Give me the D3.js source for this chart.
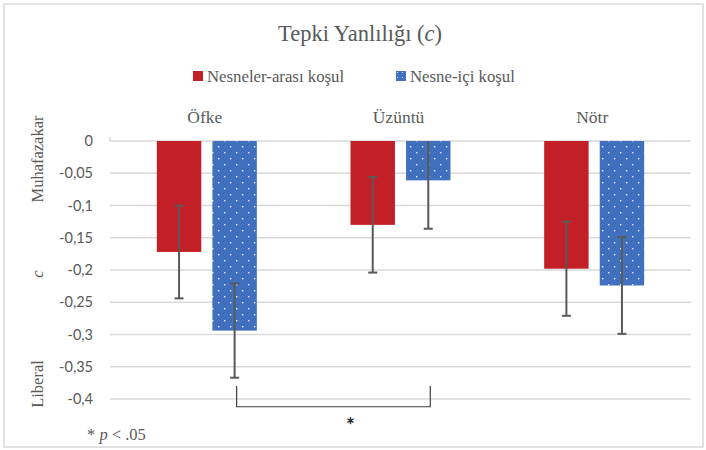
<!DOCTYPE html>
<html>
<head>
<meta charset="utf-8">
<script src="https://cdn.jsdelivr.net/npm/d3@7"></script>
<style>
  html, body { margin: 0; padding: 0; background: #fff; }
  svg { display: block; }
</style>
</head>
<body>
<svg id="chart" width="706" height="450"></svg>
<script>
const categories = ["Öfke", "Üzüntü", "Nötr"];
const seriesNames = ["Nesneler-arası koşul", "Nesne-içi koşul"];
const betweenValues = [-0.172, -0.130, -0.198];
const withinValues = [-0.294, -0.061, -0.224];
const betweenErrors = [0.072, 0.074, 0.073];
const withinErrors = [0.073, 0.075, 0.075];
const yTicks = [0, -0.05, -0.1, -0.15, -0.2, -0.25, -0.3, -0.35, -0.4];
const seriesColors = ["#C21F26", "#4170BE"];

(function () {
const svg = d3.select("#chart");
const serif = "'Liberation Serif', 'Times New Roman', serif";
const sans = "Lato, 'Liberation Sans', sans-serif";
const textGray = "#595959";

// pattern for blue bars
const defs = svg.append("defs");
const pat = defs.append("pattern").attr("id", "dots").attr("patternUnits", "userSpaceOnUse")
  .attr("width", 12).attr("height", 12);
pat.append("rect").attr("width", 12).attr("height", 12).attr("fill", seriesColors[1]);
[[2, 2], [8, 8]].forEach(([px, py]) => {
  pat.append("rect").attr("x", px).attr("y", py).attr("width", 1.4).attr("height", 1.4)
    .attr("fill", "#fff").attr("opacity", 0.85);
});
const patSmall = defs.append("pattern").attr("id", "dotsSmall").attr("patternUnits", "userSpaceOnUse")
  .attr("width", 5).attr("height", 5);
patSmall.append("rect").attr("width", 5).attr("height", 5).attr("fill", seriesColors[1]);
patSmall.append("rect").attr("x", 2).attr("y", 2).attr("width", 1).attr("height", 1).attr("fill", "#fff").attr("opacity", 0.8);

// outer border
svg.append("rect").attr("x", 4).attr("y", 4).attr("width", 699).attr("height", 443)
  .attr("fill", "none").attr("stroke", "#d9d9d9").attr("stroke-width", 1.5);

const pLeft = 110, pRight = 691, pTop = 141, pBottom = 399;
const x0 = d3.scaleBand().domain(categories).range([pLeft, pRight]).padding(0);
const groupW = 100;
const x1 = d3.scaleBand().domain(seriesNames).range([0, groupW]).paddingInner(0.2).paddingOuter(0);
const y = d3.scaleLinear().domain([0, -0.4]).range([pTop, pBottom]);

// gridlines
svg.append("g").selectAll("line").data(yTicks).join("line")
  .attr("x1", pLeft).attr("x2", pRight)
  .attr("y1", d => y(d)).attr("y2", d => y(d))
  .attr("stroke", "#d9d9d9").attr("stroke-width", 1.5);
svg.append("line").attr("x1", pLeft).attr("x2", pLeft).attr("y1", pTop - 4).attr("y2", pTop)
  .attr("stroke", "#d9d9d9").attr("stroke-width", 1.5);

// y tick labels
const yAxis = d3.axisLeft(y).tickValues(yTicks).tickSize(0).tickPadding(0)
  .tickFormat(d => d === 0 ? "0" : String(d).replace(".", ","));
const ga = svg.append("g").attr("transform", "translate(93,0)").call(yAxis);
ga.select(".domain").remove();
ga.selectAll("text").attr("font-family", sans).attr("font-size", 14.5).attr("fill", textGray);

// category labels at top
svg.append("g").selectAll("text").data(categories).join("text")
  .attr("x", d => x0(d) + x0.bandwidth() / 2 - 2).attr("y", 123)
  .attr("text-anchor", "middle").attr("font-family", serif).attr("font-size", 17.5)
  .attr("fill", textGray).text(d => d);

const seriesData = [
  { name: seriesNames[0], values: betweenValues, errors: betweenErrors, fill: seriesColors[0] },
  { name: seriesNames[1], values: withinValues, errors: withinErrors, fill: "url(#dots)" }
];

const barX = (cat, s) => x0(cat) + x0.bandwidth() / 2 - groupW / 2 + x1(s);

seriesData.forEach(s => {
  svg.append("g").selectAll("rect").data(categories).join("rect")
    .attr("x", c => barX(c, s.name))
    .attr("width", x1.bandwidth())
    .attr("y", y(0))
    .attr("height", (c, i) => y(s.values[i]) - y(0))
    .attr("fill", s.fill);
});

// error bars
const errColor = "#595959";
seriesData.forEach(s => {
  categories.forEach((c, i) => {
    const cx = barX(c, s.name) + x1.bandwidth() / 2;
    const hi = s.values[i] + s.errors[i];
    const lo = s.values[i] - s.errors[i];
    const hiC = Math.min(hi, 0), loC = Math.max(lo, -0.4);
    const g = svg.append("g").attr("stroke", errColor).attr("stroke-width", 2);
    g.append("line").attr("x1", cx).attr("x2", cx).attr("y1", y(hiC)).attr("y2", y(loC));
    if (hi <= 0) g.append("line").attr("x1", cx - 4.5).attr("x2", cx + 4.5).attr("y1", y(hi)).attr("y2", y(hi));
    if (lo >= -0.4) g.append("line").attr("x1", cx - 4.5).attr("x2", cx + 4.5).attr("y1", y(lo)).attr("y2", y(lo));
  });
});

// significance bracket between Öfke and Üzüntü (within series)
const bx1 = barX(categories[0], seriesNames[1]) + x1.bandwidth() / 2 + 2;
const bx2 = barX(categories[1], seriesNames[1]) + x1.bandwidth() / 2 + 2;
const bTop = y(-0.38), bBot = y(-0.412);
svg.append("path")
  .attr("d", `M${bx1},${bTop} L${bx1},${bBot} L${bx2},${bBot} L${bx2},${bTop}`)
  .attr("fill", "none").attr("stroke", "#404040").attr("stroke-width", 1.2);
svg.append("text").attr("x", (bx1 + bx2) / 2 + 17).attr("y", 433)
  .attr("text-anchor", "middle").attr("font-family", sans).attr("font-weight", "bold")
  .attr("font-size", 21).attr("fill", "#262626").text("*");

// title
const title = svg.append("text").attr("x", 360).attr("y", 41).attr("text-anchor", "middle")
  .attr("font-family", serif).attr("font-size", 22.5).attr("fill", textGray);
title.append("tspan").text("Tepki Yanlılığı (");
title.append("tspan").attr("font-style", "italic").text("c");
title.append("tspan").text(")");

// legend
const legendItems = [
  { name: seriesNames[0], fill: seriesColors[0], x: 193 },
  { name: seriesNames[1], fill: "url(#dotsSmall)", x: 396 }
];
legendItems.forEach(l => {
  svg.append("rect").attr("x", l.x).attr("y", 71).attr("width", 10).attr("height", 10).attr("fill", l.fill);
  svg.append("text").attr("x", l.x + 14).attr("y", 82).attr("font-family", serif).attr("font-size", 16.8)
    .attr("fill", textGray).text(l.name);
});

// y axis titles
const yTitles = [
  { t: "Muhafazakar", cy: 159, italic: false },
  { t: "c", cy: 274, italic: true },
  { t: "Liberal", cy: 384, italic: false }
];
yTitles.forEach(d => {
  svg.append("text").attr("transform", `translate(43,${d.cy}) rotate(-90)`)
    .attr("text-anchor", "middle").attr("font-family", serif).attr("font-size", 16.5)
    .attr("font-style", d.italic ? "italic" : "normal").attr("fill", textGray).text(d.t);
});

// footnote
const fn = svg.append("text").attr("x", 87).attr("y", 440).attr("font-family", serif)
  .attr("font-size", 16.5).attr("fill", textGray);
fn.append("tspan").text("* ");
fn.append("tspan").attr("font-style", "italic").text("p");
fn.append("tspan").text(" < .05");
})();
</script>
</body>
</html>
